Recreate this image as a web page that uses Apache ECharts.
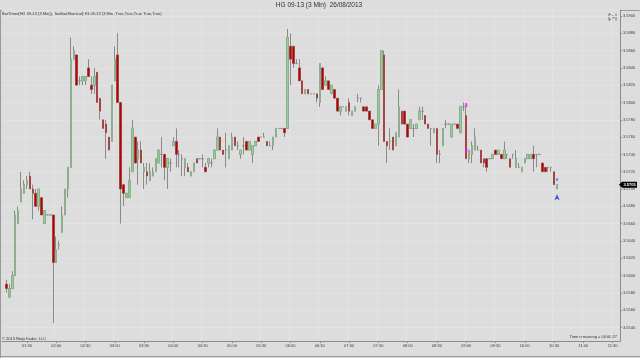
<!DOCTYPE html>
<html><head><meta charset="utf-8">
<script src="https://cdn.jsdelivr.net/npm/echarts/dist/echarts.min.js"></script>
<style>html,body{margin:0;padding:0;background:#dddddd}#c{width:640px;height:358px}</style>
</head><body><div id="c"></div>
<script>
// time categories: 3-minute bars from 01:06 to 11:36
const firstMinute = 66, lastMinute = 696, step = 3;
const categories = [];
for (let m = firstMinute; m <= lastMinute; m += step) {
  categories.push(String(Math.floor(m / 60)).padStart(2, '0') + ':' + String(m % 60).padStart(2, '0'));
}
const firstBarIndex = 1; // first bar at 01:09

const opens = [
3.5590,3.5575,3.5585,3.5600,3.5660,3.5685,3.5695,3.5705,3.5715,3.5700,
3.5695,3.5680,3.5690,3.5660,3.5670,3.5670,3.5670,3.5615,3.5635,3.5650,
3.5670,3.5700,3.5725,3.5850,3.5855,3.5825,3.5825,3.5825,3.5840,3.5820,
3.5820,3.5835,3.5805,3.5780,3.5775,3.5760,3.5755,3.5825,3.5855,3.5800,
3.5705,3.5690,3.5690,3.5720,3.5760,3.5735,3.5745,3.5720,3.5720,3.5710,
3.5715,3.5720,3.5730,3.5740,3.5740,3.5725,3.5730,3.5750,3.5755,3.5740,
3.5735,3.5725,3.5725,3.5715,3.5720,3.5735,3.5735,3.5735,3.5725,3.5730,
3.5730,3.5735,3.5745,3.5760,3.5745,3.5745,3.5735,3.5745,3.5760,3.5750,
3.5740,3.5750,3.5755,3.5745,3.5740,3.5750,3.5760,3.5760,3.5760,3.5755,
3.5750,3.5750,3.5760,3.5770,3.5770,3.5770,3.5770,3.5865,3.5865,3.5845,
3.5840,3.5825,3.5810,3.5815,3.5810,3.5810,3.5810,3.5800,3.5840,3.5820,
3.5825,3.5810,3.5815,3.5805,3.5790,3.5795,3.5790,3.5800,3.5785,3.5790,
3.5805,3.5805,3.5795,3.5795,3.5790,3.5780,3.5770,3.5775,3.5815,3.5855,
3.5755,3.5755,3.5760,3.5750,3.5760,3.5790,3.5790,3.5775,3.5770,3.5770,
3.5770,3.5780,3.5790,3.5785,3.5775,3.5770,3.5765,3.5770,3.5740,3.5750,
3.5775,3.5775,3.5760,3.5775,3.5775,3.5765,3.5795,3.5785,3.5735,3.5740,
3.5745,3.5745,3.5745,3.5735,3.5735,3.5735,3.5735,3.5745,3.5740,3.5740,
3.5735,3.5740,3.5735,3.5740,3.5725,3.5725,3.5720,3.5730,3.5735,3.5735,
3.5740,3.5740,3.5740,3.5730,3.5725,3.5725,3.5725,3.5720,3.5700
];
const closes = [
3.5585,3.5585,3.5600,3.5670,3.5675,3.5700,3.5705,3.5710,3.5700,3.5695,
3.5680,3.5700,3.5670,3.5675,3.5670,3.5670,3.5615,3.5630,3.5635,3.5670,
3.5700,3.5725,3.5850,3.5860,3.5820,3.5825,3.5830,3.5830,3.5830,3.5815,
3.5830,3.5800,3.5790,3.5770,3.5765,3.5745,3.5820,3.5850,3.5800,3.5700,
3.5695,3.5695,3.5710,3.5770,3.5730,3.5745,3.5730,3.5725,3.5715,3.5720,
3.5720,3.5735,3.5745,3.5740,3.5725,3.5735,3.5730,3.5755,3.5740,3.5740,
3.5735,3.5735,3.5720,3.5720,3.5730,3.5730,3.5735,3.5735,3.5720,3.5735,
3.5730,3.5745,3.5760,3.5745,3.5740,3.5745,3.5750,3.5760,3.5750,3.5750,
3.5745,3.5750,3.5745,3.5755,3.5750,3.5755,3.5755,3.5760,3.5760,3.5750,
3.5750,3.5760,3.5770,3.5770,3.5770,3.5765,3.5875,3.5850,3.5845,3.5845,
3.5825,3.5810,3.5815,3.5810,3.5810,3.5810,3.5805,3.5845,3.5815,3.5825,
3.5815,3.5820,3.5805,3.5790,3.5795,3.5795,3.5795,3.5790,3.5790,3.5795,
3.5805,3.5805,3.5790,3.5790,3.5780,3.5770,3.5775,3.5815,3.5860,3.5755,
3.5750,3.5755,3.5745,3.5765,3.5795,3.5775,3.5775,3.5760,3.5780,3.5770,
3.5775,3.5790,3.5790,3.5775,3.5770,3.5770,3.5770,3.5740,3.5740,3.5770,
3.5775,3.5775,3.5775,3.5775,3.5770,3.5795,3.5795,3.5735,3.5745,3.5750,
3.5760,3.5745,3.5730,3.5730,3.5725,3.5735,3.5740,3.5740,3.5745,3.5735,
3.5745,3.5740,3.5725,3.5740,3.5735,3.5725,3.5725,3.5735,3.5740,3.5740,
3.5735,3.5740,3.5740,3.5720,3.5720,3.5725,3.5725,3.5705,3.5705
];
const lows = [
3.5580,3.5575,3.5585,3.5600,3.5660,3.5685,3.5695,3.5700,3.5700,3.5665,
3.5680,3.5675,3.5670,3.5660,3.5670,3.5670,3.5545,3.5615,3.5630,3.5650,
3.5670,3.5690,3.5725,3.5850,3.5820,3.5820,3.5820,3.5820,3.5830,3.5810,
3.5810,3.5800,3.5780,3.5770,3.5735,3.5745,3.5755,3.5825,3.5800,3.5660,
3.5680,3.5690,3.5690,3.5720,3.5730,3.5705,3.5730,3.5700,3.5705,3.5710,
3.5715,3.5720,3.5730,3.5725,3.5710,3.5700,3.5720,3.5750,3.5725,3.5725,
3.5715,3.5715,3.5720,3.5715,3.5720,3.5730,3.5735,3.5725,3.5720,3.5725,
3.5725,3.5735,3.5745,3.5745,3.5740,3.5725,3.5735,3.5745,3.5750,3.5745,
3.5735,3.5740,3.5745,3.5745,3.5730,3.5750,3.5755,3.5760,3.5760,3.5750,
3.5750,3.5745,3.5760,3.5770,3.5770,3.5760,3.5770,3.5820,3.5840,3.5845,
3.5825,3.5810,3.5810,3.5810,3.5810,3.5810,3.5800,3.5795,3.5815,3.5820,
3.5815,3.5810,3.5805,3.5790,3.5785,3.5795,3.5790,3.5785,3.5785,3.5790,
3.5800,3.5800,3.5790,3.5790,3.5780,3.5770,3.5770,3.5750,3.5815,3.5755,
3.5730,3.5745,3.5745,3.5750,3.5760,3.5775,3.5775,3.5760,3.5770,3.5760,
3.5770,3.5780,3.5780,3.5775,3.5770,3.5750,3.5765,3.5730,3.5730,3.5750,
3.5770,3.5775,3.5760,3.5775,3.5770,3.5765,3.5790,3.5735,3.5730,3.5730,
3.5745,3.5745,3.5730,3.5725,3.5720,3.5735,3.5735,3.5740,3.5740,3.5735,
3.5735,3.5735,3.5725,3.5735,3.5725,3.5725,3.5720,3.5730,3.5735,3.5735,
3.5720,3.5725,3.5740,3.5720,3.5720,3.5720,3.5720,3.5705,3.5700
];
const highs = [
3.5595,3.5590,3.5605,3.5675,3.5680,3.5720,3.5710,3.5715,3.5720,3.5705,
3.5700,3.5700,3.5690,3.5675,3.5670,3.5670,3.5670,3.5645,3.5640,3.5680,
3.5700,3.5725,3.5875,3.5865,3.5855,3.5830,3.5830,3.5830,3.5850,3.5830,
3.5840,3.5835,3.5805,3.5780,3.5780,3.5760,3.5820,3.5865,3.5880,3.5800,
3.5705,3.5695,3.5725,3.5780,3.5760,3.5755,3.5755,3.5730,3.5730,3.5730,
3.5725,3.5735,3.5745,3.5760,3.5740,3.5735,3.5735,3.5760,3.5770,3.5745,
3.5740,3.5735,3.5730,3.5720,3.5730,3.5735,3.5735,3.5740,3.5730,3.5735,
3.5735,3.5745,3.5770,3.5760,3.5745,3.5765,3.5750,3.5765,3.5760,3.5755,
3.5745,3.5760,3.5755,3.5755,3.5750,3.5755,3.5760,3.5760,3.5765,3.5755,
3.5755,3.5760,3.5770,3.5770,3.5770,3.5770,3.5885,3.5880,3.5865,3.5850,
3.5850,3.5825,3.5815,3.5815,3.5810,3.5810,3.5810,3.5845,3.5840,3.5830,
3.5825,3.5820,3.5815,3.5805,3.5795,3.5795,3.5795,3.5805,3.5790,3.5795,
3.5810,3.5805,3.5795,3.5795,3.5790,3.5780,3.5775,3.5820,3.5860,3.5860,
3.5755,3.5770,3.5760,3.5765,3.5815,3.5790,3.5790,3.5775,3.5780,3.5775,
3.5775,3.5795,3.5795,3.5785,3.5775,3.5770,3.5770,3.5770,3.5745,3.5770,
3.5780,3.5775,3.5775,3.5775,3.5775,3.5795,3.5800,3.5795,3.5745,3.5755,
3.5770,3.5750,3.5745,3.5735,3.5735,3.5735,3.5740,3.5745,3.5745,3.5740,
3.5755,3.5740,3.5735,3.5740,3.5745,3.5730,3.5725,3.5735,3.5740,3.5740,
3.5750,3.5740,3.5740,3.5730,3.5725,3.5725,3.5725,3.5720,3.5705
];
// signal markers: [bar number, price]
const magentaMarks = [[157, 3.5797], [157, 3.5745]];
const blueDotMarks = [[188, 3.5711]];
const blueArrowMarks = [[188, 3.5694]];

const yMin = 3.55243, yMax = 3.59069;
const titleText = 'HG 09-13 (3 Min)  26/08/2013';
const indicatorText = 'BarTimer(HG 09-13 (3 Min)), ToolbarShortcut(HG 09-13 (3 Min),True,True,True,True,True)';
const copyrightText = '\u00a9 2013 NinjaTrader, LLC';
const timerText = 'Time remaining = 00:00:27';

const FAM = "'Liberation Sans', Arial, sans-serif";
const empty = ['-', '-', '-', '-'];
const wickData = [], bodyData = [];
for (let i = 0; i < firstBarIndex; i++) { wickData.push(empty); bodyData.push(empty); }
opens.forEach((o, k) => {
  const c = closes[k];
  wickData.push([o, c, lows[k], highs[k]]);
  bodyData.push([o, c, Math.min(o, c), Math.max(o, c)]);
});
const shift = a => a.map(p => [p[0] + firstBarIndex, p[1]]);
const isHalf = (idx, val) => /:(00|30)$/.test(val);
const lastClose = closes[closes.length - 1];

const staticGraphics = [
  {type: 'text', x: 319, y: 5, style: {text: titleText, font: '6.5px ' + FAM, fill: '#333', align: 'center', verticalAlign: 'middle'}},
  {type: 'line', shape: {x1: 0, y1: 10.5, x2: 640, y2: 10.5}, style: {stroke: '#9a9a9a', lineWidth: 1}},
  {type: 'line', shape: {x1: 0.5, y1: 10, x2: 0.5, y2: 358}, style: {stroke: '#9a9a9a', lineWidth: 1}},
  {type: 'line', shape: {x1: 0, y1: 356.5, x2: 640, y2: 356.5}, style: {stroke: '#9a9a9a', lineWidth: 1}},
  {type: 'text', x: 2, y: 14, style: {text: indicatorText, font: '4px ' + FAM, fill: '#333', align: 'left', verticalAlign: 'middle'}},
  {type: 'text', x: 2, y: 338.5, style: {text: copyrightText, font: '4px ' + FAM, fill: '#333', align: 'left', verticalAlign: 'middle'}},
  {type: 'text', x: 617, y: 336.5, style: {text: timerText, font: '4px ' + FAM, fill: '#333', align: 'right', verticalAlign: 'middle'}},
  {type: 'polygon', shape: {points: [[609, 13.5], [609, 20.5], [614.5, 17]]}, style: {fill: 'none', stroke: '#606060', lineWidth: 0.8}},
  {type: 'line', shape: {x1: 616, y1: 13.5, x2: 616, y2: 20.5}, style: {stroke: '#606060', lineWidth: 0.8}}
];

const chart = echarts.init(document.getElementById('c'), null, {renderer: 'canvas'});
chart.setOption({
  animation: false,
  backgroundColor: '#dddddd',
  grid: {left: 2, right: 20, top: 10, bottom: 17, containLabel: false, outerBoundsMode: 'none'},
  xAxis: {
    type: 'category', data: categories, boundaryGap: true,
    axisLine: {show: true, lineStyle: {color: '#8c8c8c', width: 1}},
    axisTick: {show: true, interval: isHalf, alignWithLabel: true, length: 2, lineStyle: {color: '#8c8c8c'}},
    axisLabel: {interval: isHalf, fontSize: 4, color: '#404040', margin: 3, fontFamily: 'Liberation Sans'},
    splitLine: {show: true, interval: isHalf, lineStyle: {color: '#e3e3e3', width: 1}}
  },
  yAxis: {
    type: 'value', position: 'right', min: yMin, max: yMax, splitNumber: 19, scale: true,
    axisLine: {show: true, lineStyle: {color: '#8c8c8c', width: 1}},
    axisTick: {show: true, length: 2, lineStyle: {color: '#8c8c8c'}},
    axisLabel: {fontSize: 4, color: '#404040', margin: 3, fontFamily: 'Liberation Sans',
      showMinLabel: false, showMaxLabel: false, formatter: v => v.toFixed(4)},
    splitLine: {show: true, lineStyle: {color: '#e3e3e3', width: 1}}
  },
  series: [
    {
      type: 'candlestick', data: wickData, barWidth: 2, z: 2,
      itemStyle: {color: '#8a8a8a', color0: '#8a8a8a', borderColor: '#8a8a8a', borderColor0: '#8a8a8a', borderWidth: 1}
    },
    {
      type: 'candlestick', data: bodyData, barWidth: 2, z: 3,
      itemStyle: {color: '#93d093', color0: '#bb0000', borderColor: '#93d093', borderColor0: '#bb0000', borderWidth: 0}
    },
    {type: 'scatter', data: shift(magentaMarks), symbol: 'rect', symbolSize: [2, 4], z: 4,
      itemStyle: {color: '#ff00ff'}},
    {type: 'scatter', data: shift(blueDotMarks), symbol: 'rect', symbolSize: [1.5, 2.5], z: 4,
      itemStyle: {color: '#1a3cff'}},
    {type: 'scatter', data: shift(blueArrowMarks), symbol: 'arrow', symbolSize: [4, 6], z: 4,
      itemStyle: {color: '#1030e0'}}
  ],
  graphic: staticGraphics
});

// current price tag on the price axis, positioned through the y scale
const py = chart.convertToPixel({yAxisIndex: 0}, lastClose);
chart.setOption({
  graphic: staticGraphics.concat([
    {type: 'polygon', z: 100, shape: {points: [[619, py], [622, py - 3], [637, py - 3], [637, py + 3], [622, py + 3]]},
      style: {fill: '#000'}},
    {type: 'text', z: 101, x: 629.5, y: py + 0.3, style: {text: lastClose.toFixed(4), font: 'bold 4px ' + FAM, fill: '#fff', align: 'center', verticalAlign: 'middle'}}
  ])
});
</script>
</body></html>
